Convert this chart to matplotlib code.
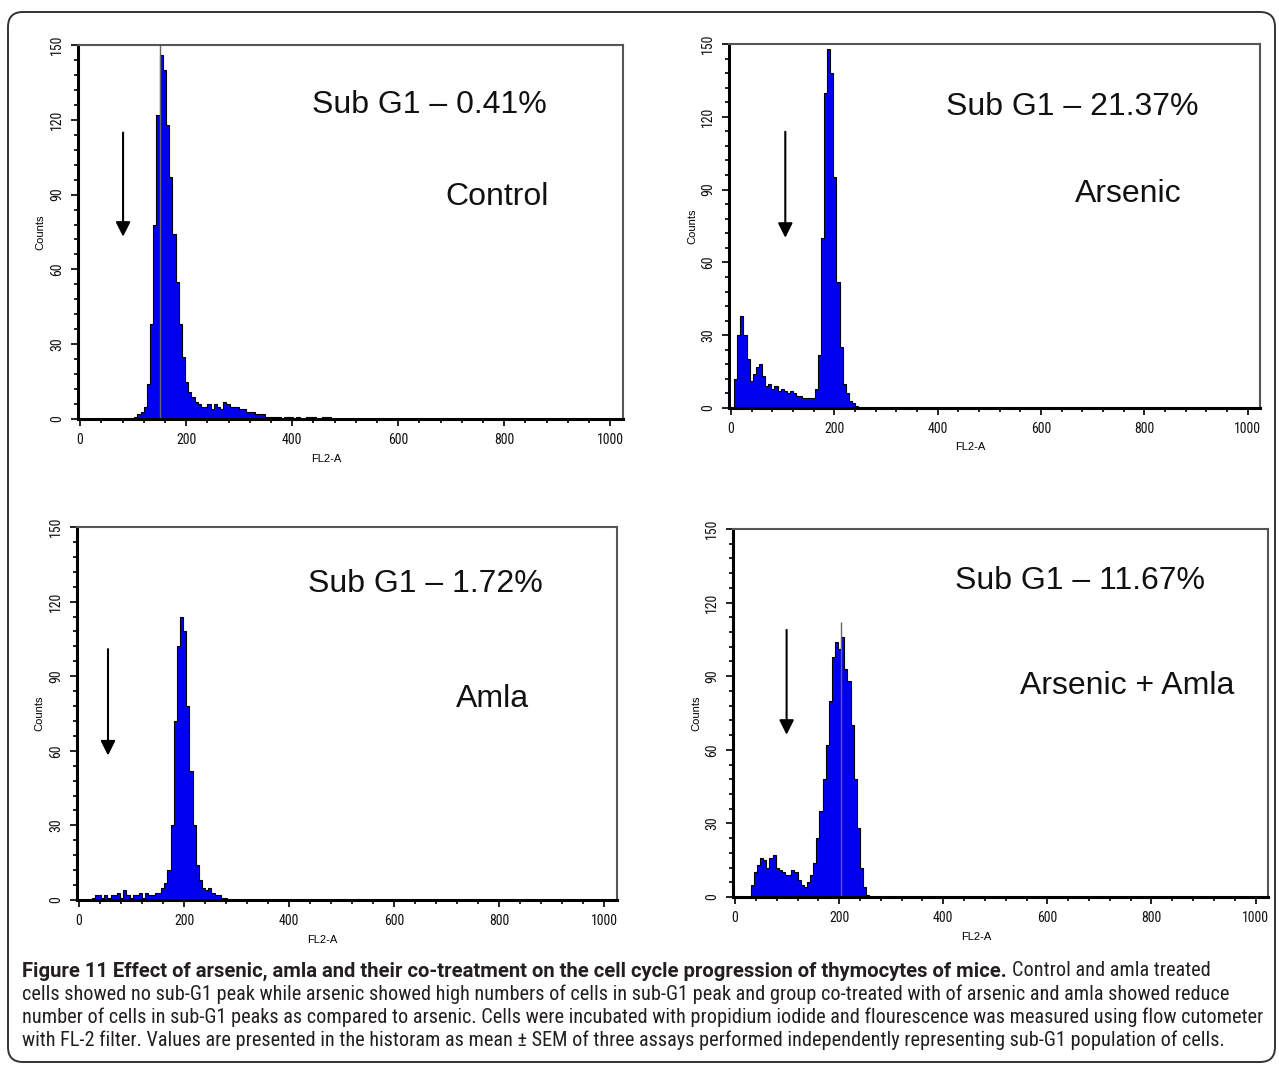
import numpy as np
import matplotlib
matplotlib.use("Agg")
import matplotlib.pyplot as plt
from matplotlib.ticker import MultipleLocator
from matplotlib.patches import FancyBboxPatch
from matplotlib import font_manager

# ---------------- data ----------------
BIN_WIDTH = 6  # FL2-A channels per histogram bin

control_start = 96
control_counts = [0, 1, 2, 3, 5, 14, 38, 78, 122, 146, 140, 118, 97, 74, 55, 38,
                  25, 15, 11, 9, 7, 6, 5, 5, 6, 4, 6, 5, 4, 7, 6, 5, 5, 5, 4, 4,
                  3, 3, 3, 2, 2, 2, 1, 1, 1, 1, 1, 0, 1, 1, 1, 0, 1, 0, 0, 1, 1,
                  1, 0, 0, 1, 1, 1, 0]

arsenic_start = 0
arsenic_counts = [0, 12, 30, 38, 30, 20, 11, 14, 17, 18, 13, 9, 10, 8, 9, 7, 8,
                  7, 6, 7, 6, 5, 5, 4, 4, 4, 4, 8, 22, 70, 130, 148, 138, 95, 52,
                  25, 10, 6, 3, 2, 1, 0]

amla_start = 18
amla_counts = [0, 1, 2, 2, 1, 2, 1, 2, 2, 3, 1, 4, 2, 1, 2, 2, 3, 1, 3, 2, 2, 3,
               3, 5, 7, 12, 30, 72, 102, 114, 108, 78, 52, 30, 14, 8, 5, 4, 5, 3,
               2, 2, 1, 1, 0]

combo_start = 24
combo_counts = [0, 5, 10, 13, 16, 15, 12, 16, 17, 12, 11, 10, 9, 9, 11, 10, 7, 5,
                4, 6, 9, 14, 24, 35, 48, 62, 80, 98, 104, 101, 106, 93, 88, 70,
                48, 28, 12, 4, 1, 0]

# off-scale / max-channel spikes (channel, count)
control_spike = (150, 152)
combo_spike = (204, 112)

group_names = ["Control", "Arsenic", "Amla", "Arsenic + Amla"]
subg1_labels = ["Sub G1 \u2013 0.41%", "Sub G1 \u2013 21.37%",
                "Sub G1 \u2013 1.72%", "Sub G1 \u2013 11.67%"]

x_ticks = [0, 200, 400, 600, 800, 1000]
y_ticks = [0, 30, 60, 90, 120, 150]

caption_bold = ("Figure 11 Effect of arsenic, amla and their co-treatment on the "
                "cell cycle progression of thymocytes of mice.")
caption_lines = [
    "Control and amla treated",
    "cells showed no sub-G1 peak while arsenic showed high numbers of cells in sub-G1 "
    "peak and group co-treated with of arsenic and amla showed reduce",
    "number of cells in sub-G1 peaks as compared to arsenic. Cells were incubated with "
    "propidium iodide and flourescence was measured using flow cutometer",
    "with FL-2 filter. Values are presented in the historam as mean \u00b1 SEM of three "
    "assays performed independently representing sub-G1 population of cells.",
]

# ---------------- layout ----------------
W, H = 1279, 1069
fig = plt.figure(figsize=(W / 100, H / 100), dpi=100)
fig.patch.set_facecolor("white")

entries = font_manager.fontManager.ttflist
avail = {f.name for f in entries}


def has(name, stretch=None):
    for f in entries:
        if f.name == name and (stretch is None or str(f.stretch) == stretch):
            return True
    return False


narrow_font = dict(family="DejaVu Sans")
for name, stretch in [("Liberation Sans Narrow", None), ("Roboto Condensed", None),
                      ("Open Sans Condensed", None), ("Noto Sans Condensed", None),
                      ("Noto Sans", "condensed"), ("Open Sans", "condensed"),
                      ("DejaVu Sans", "condensed"), ("Roboto", "condensed")]:
    if has(name, stretch):
        narrow_font = dict(family=name)
        if stretch:
            narrow_font["stretch"] = stretch
        break

arial = "Liberation Sans" if "Liberation Sans" in avail else "DejaVu Sans"

# frame boxes in pixels: left, right, top, bottom
boxes = [(78, 623, 45, 419), (729, 1260, 44, 408),
         (77, 617, 527, 900), (733, 1268, 529, 897)]
starts = [control_start, arsenic_start, amla_start, combo_start]
counts_all = [control_counts, arsenic_counts, amla_counts, combo_counts]
spikes = [control_spike, None, None, combo_spike]
# annotation layout (data coords)
sub_pos = [(659, 126), (660, 124), (660, 127), (663, 129)]
name_pos = [(787, 89), (769, 88), (787, 81), (753, 86)]
arrows = [(81, 116, 72), (105, 115, 69), (55, 102, 57), (99, 110, 65)]

BLUE = "#0000f0"

for i in range(4):
    l, r, t, b = boxes[i]
    ax = fig.add_axes([l / W, 1 - b / H, (r - l) / W, (b - t) / H])
    vals = np.array(counts_all[i], dtype=float)
    edges = starts[i] + BIN_WIDTH * np.arange(len(vals) + 1)
    ax.stairs(vals, edges, fill=True, color=BLUE, lw=0)
    ax.stairs(vals, edges, color="black", lw=0.8)
    if spikes[i] is not None:
        ax.vlines(spikes[i][0], 0, spikes[i][1], color="#666666", lw=1.0)

    ax.set_xlim(-4, 1024)
    ax.set_ylim(0, 150)
    ax.set_xticks(x_ticks)
    ax.set_yticks(y_ticks)
    ax.xaxis.set_minor_locator(MultipleLocator(40))
    ax.yaxis.set_minor_locator(MultipleLocator(6))
    ax.tick_params(which="major", direction="out", length=5, width=1.3,
                   labelsize=10, pad=5, colors="#111111")
    ax.tick_params(which="minor", direction="out", length=3, width=1.3,
                   color="#111111")
    for lab in ax.get_xticklabels() + ax.get_yticklabels():
        lab.set_family(narrow_font["family"])
        if "stretch" in narrow_font:
            lab.set_stretch(narrow_font["stretch"])
    for lab in ax.get_yticklabels():
        lab.set_rotation(90)
        lab.set_va("center")
        lab.set_ha("center")
    ax.tick_params(axis="y", pad=10)

    for s in ["left", "bottom"]:
        ax.spines[s].set_color("black")
        ax.spines[s].set_linewidth(2.2)
    for s in ["top", "right"]:
        ax.spines[s].set_color("#555555")
        ax.spines[s].set_linewidth(1.5)

    ax.set_ylabel("Counts", fontsize=8, family=arial)
    ax.set_xlabel("FL2-A", fontsize=8, family=arial)
    ax.yaxis.set_label_coords(-0.06, 0.5)
    ax.xaxis.set_label_coords(0.455, -0.094)

    ax.text(*sub_pos[i], subg1_labels[i], ha="center", va="center",
            fontsize=23, family=arial, color="#111111")
    ax.text(*name_pos[i], group_names[i], ha="center", va="center",
            fontsize=23, family=arial, color="#111111")

    ax_x, y0, y1 = arrows[i]
    ax.annotate("", xy=(ax_x, y1), xytext=(ax_x, y0),
                arrowprops=dict(arrowstyle="-|>", color="black", lw=1.5,
                                mutation_scale=22))

# rounded outer border
border = FancyBboxPatch((0.08, 0.07), 12.67, 10.50,
                        boxstyle="round,pad=0,rounding_size=0.15",
                        transform=fig.dpi_scale_trans, fill=False,
                        edgecolor="#333333", lw=1.4)
fig.patches.append(border)

# caption
cap_color = "#231f20"
line_y = [971, 994, 1017, 1040]
x0 = 22
fig.canvas.draw()
rend = fig.canvas.get_renderer()


def ctext(x, y, s, size, font=None, **kw):
    f = font if font is not None else narrow_font
    return fig.text(x / W, 1 - y / H, s, fontsize=size, va="center", ha="left",
                    color=cap_color, **f, **kw)


# fit font size so the widest lines end near x = 1262
targets = [(caption_lines[1], 1256 - x0), (caption_lines[2], 1264 - x0)]
fs = 99
for s, target in targets:
    p = ctext(x0, 0, s, 14)
    wpx = p.get_window_extent(rend).width
    p.remove()
    fs = min(fs, 14 * target / wpx)

# bold lead-in: horizontally wider than the condensed body; stretch it to end near x=1003
bold_candidates = [narrow_font]
if has("Roboto"):
    bold_candidates.insert(0, dict(family="Roboto"))
best = None
for bf in bold_candidates:
    p = ctext(x0, 0, caption_bold, fs, font=bf, fontweight="bold")
    wpx = p.get_window_extent(rend).width
    p.remove()
    err = abs(wpx - (1003 - x0))
    if best is None or err < best[0]:
        best = (err, bf)
tb = ctext(x0, line_y[0], caption_bold, fs, font=best[1], fontweight="bold")
xb = tb.get_window_extent(rend).x1
ctext(xb + 5, line_y[0], caption_lines[0], fs)
for k in range(1, 4):
    ctext(x0, line_y[k], caption_lines[k], fs)

fig.savefig("out.png", dpi=100, facecolor="white")
